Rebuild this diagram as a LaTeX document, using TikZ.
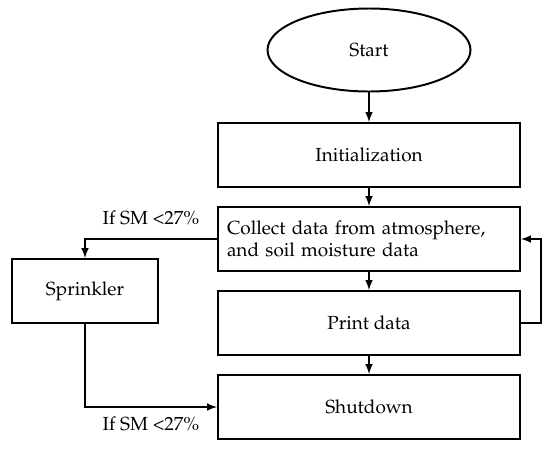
\documentclass[tikz,border=0pt]{standalone}
\usepackage[T1]{fontenc}
\usepackage{mathpazo}
\usepackage{tikz}
\usetikzlibrary{shapes, arrows, positioning, calc}

\begin{document}
\begin{tikzpicture}[node distance=2.1cm, auto,
    font=\fontsize{13.5}{16}\selectfont,
    boxstyle/.style={rectangle, draw, line width=1.4pt, minimum width=7.55cm, minimum height=1.6cm, text centered, inner sep=0.225cm},
    startstyle/.style={ellipse, draw, line width=1.4pt, minimum width=5.075cm, minimum height=2.075cm},
    arrowstyle/.style={->, >=latex, line width=1.4pt}]

    \useasboundingbox (0,0) rectangle (13.75,-11.225);

    \node[startstyle] (start) at (9.225,-1.25) {Start};
    \node[boxstyle, below of=start, node distance=2.625cm] (init) {Initialization};
    \node[boxstyle, below of=init, text width=7.1cm, align=left] (collect) {Collect data from atmosphere,\\and soil moisture data};
    \node[boxstyle, below of=collect] (print) {Print data};
    \node[boxstyle, below of=print] (shutdown) {Shutdown};
    \node[boxstyle, minimum width=3.65cm, left of=collect, node distance=7.1cm, yshift=-1.3cm] (sprinkler) {Sprinkler};

    \draw[arrowstyle] (start) -- (init);
    \draw[arrowstyle] (init) -- (collect);
    \draw[arrowstyle] (collect) -- (print);
    \draw[arrowstyle] (print) -- (shutdown);

    \draw[arrowstyle] (collect.west) -| node[pos=0.25, above=6pt] {If SM <27\%} (sprinkler.north);
    \draw[arrowstyle] (sprinkler.south) |- node[pos=0.75, below=3pt] {If SM <27\%} (shutdown.west);
    \draw[arrowstyle] (print.east) -- ++(0.5,0) |- (collect.east);
\end{tikzpicture}
\end{document}
